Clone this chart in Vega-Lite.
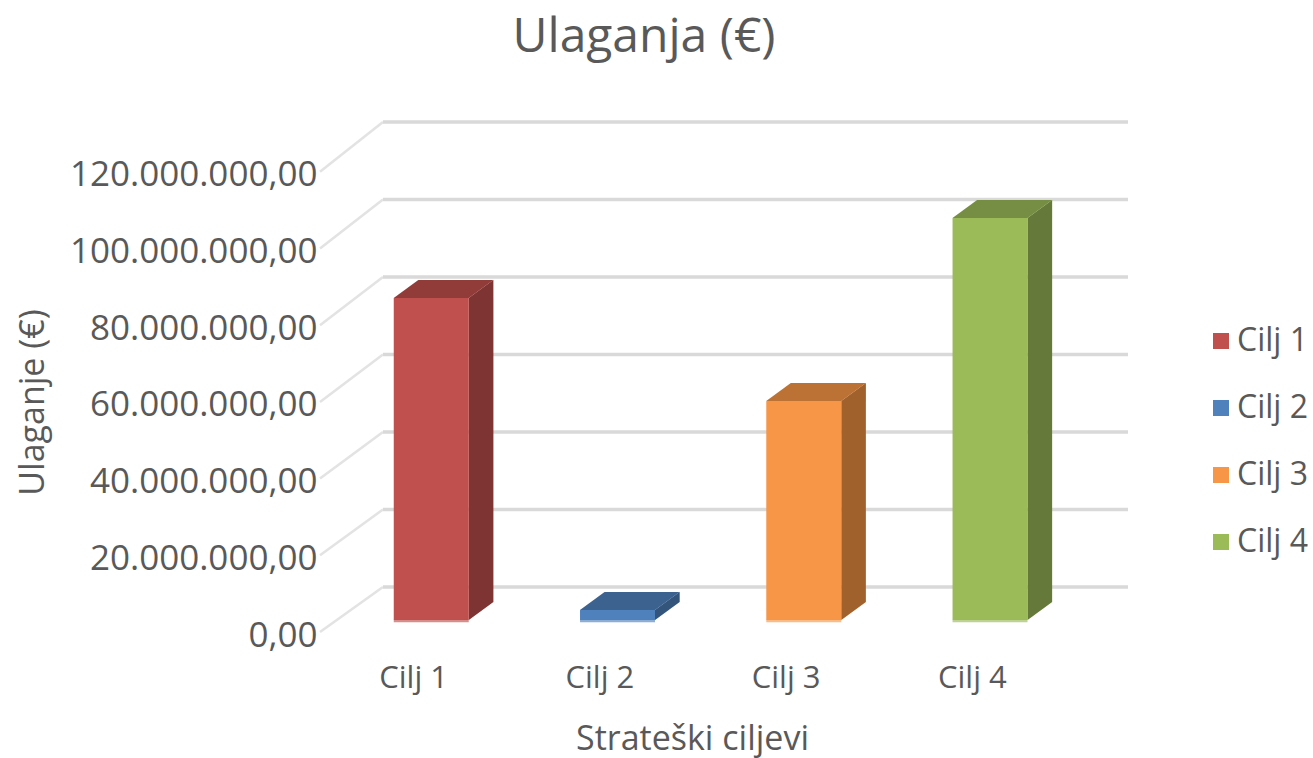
{
"$schema":"https://vega.github.io/schema/vega-lite/v6.json",
"width":808,"height":510,
"autosize":{"type":"none"},
"padding":{"left":320,"top":122,"right":185,"bottom":126},
"background":"white",
"config":{"view":{"stroke":null},"font":"Open Sans"},
"title":{"text":"Ulaganja (€)","fontSize":48,"font":"Open Sans","fontWeight":"normal","color":"#595959","anchor":"middle","dx":-80,"dy":-53,"offset":0},
"datasets":{
"ciljevi":[
{"cilj":"Cilj 1","rb":1,"ulaganje":83960000},
{"cilj":"Cilj 2","rb":2,"ulaganje":2600000},
{"cilj":"Cilj 3","rb":3,"ulaganje":57100000},
{"cilj":"Cilj 4","rb":4,"ulaganje":104800000}],
"mreza":[{"v":0},{"v":20000000},{"v":40000000},{"v":60000000},{"v":80000000},{"v":100000000},{"v":120000000}]
},
"layer":[
{"data":{"name":"mreza"},
"transform":[{"calculate":"[0,1]","as":"k"},{"flatten":["k"]},
{"calculate":"0.5+datum.k*0.338","as":"xx"},{"calculate":"datum.k==0?datum.v:datum.v*1.0104+11730000","as":"yy"}],
"mark":{"type":"line","stroke":"#e3e3e3","strokeWidth":2.5},
"encoding":{
"x":{"field":"xx","type":"quantitative","scale":{"domain":[0.5,4.838],"nice":false,"zero":false},
"axis":{"values":[1,2,3,4],"labelExpr":"'Cilj ' + datum.value","grid":false,"domain":false,"ticks":false,"labelFontSize":31,"labelColor":"#595959","labelPadding":31,"labelFont":"Open Sans","title":"Strateški ciljevi","titleFontSize":34,"titleFont":"Open Sans","titleFontWeight":"normal","titleColor":"#595959","titleX":372,"titleY":107,"titleBaseline":"middle"}},
"y":{"field":"yy","type":"quantitative","scale":{"domain":[0,132990000],"nice":false},
"axis":{"values":[0,20000000,40000000,60000000,80000000,100000000,120000000],"labelExpr":"replace(replace(replace(format(datum.value,',.2f'),regexp(',','g'),'#'),'.',','),regexp('#','g'),'.')","labelLimit":300,"labelOffset":3,"grid":false,"domain":false,"ticks":false,"labelFontSize":35,"labelColor":"#595959","labelPadding":3,"labelFont":"Open Sans","title":"Ulaganje (€)","titleFontSize":34,"titleFont":"Open Sans","titleFontWeight":"normal","titleColor":"#595959","titleX":-287,"titleY":280,"titleBaseline":"middle"}},
"detail":{"field":"v"}}},
{"data":{"name":"mreza"},
"transform":[{"calculate":"[0,1]","as":"k"},{"flatten":["k"]},
{"calculate":"0.838+datum.k*4","as":"xx"},{"calculate":"datum.v*1.0104+11730000","as":"yy"}],
"mark":{"type":"line","stroke":"#d9d9d9","strokeWidth":3.5},
"encoding":{
"x":{"field":"xx","type":"quantitative"},
"y":{"field":"yy","type":"quantitative"},
"detail":{"field":"v"}}},
{"data":{"name":"ciljevi"},
"transform":[{"calculate":"[0,1]","as":"k"},{"flatten":["k"]},
{"calculate":"datum.rb+0.2986+datum.k*0.132","as":"xx"},
{"calculate":"datum.ulaganje+3130000+datum.k*4690000","as":"yy"},
{"calculate":"3130000+datum.k*4690000","as":"yb"}],
"mark":{"type":"area","orient":"vertical"},
"encoding":{"x":{"field":"xx","type":"quantitative"},"y":{"field":"yy","type":"quantitative"},"y2":{"field":"yb"},
"color":{"field":"cilj","type":"nominal","scale":{"domain":["Cilj 1","Cilj 2","Cilj 3","Cilj 4"],"range":["#c0504d","#4f81bd","#f79646","#9bbb59"]},
"legend":{"title":null,"orient":"none","legendX":885,"legendY":201,"symbolType":"square","symbolSize":256,"symbolStrokeWidth":0,"labelFontSize":32,"labelFont":"Open Sans","labelColor":"#595959","rowPadding":31,"labelOffset":0,"clipHeight":36}}}},
{"data":{"name":"ciljevi"},
"transform":[{"calculate":"[0,1]","as":"k"},{"flatten":["k"]},
{"calculate":"datum.rb+0.2986+datum.k*0.132","as":"xx"},
{"calculate":"datum.ulaganje+3130000+datum.k*4690000","as":"yy"},
{"calculate":"3130000+datum.k*4690000","as":"yb"}],
"mark":{"type":"area","orient":"vertical","fill":"#000000","opacity":0.35},
"encoding":{"x":{"field":"xx","type":"quantitative"},"y":{"field":"yy","type":"quantitative"},"y2":{"field":"yb"},"detail":{"field":"cilj"}}},
{"data":{"name":"ciljevi"},
"transform":[{"calculate":"[0,1,2,3]","as":"k"},{"flatten":["k"]},
{"calculate":"datum.rb-0.104+(datum.k==0?0:datum.k==1?0.132:datum.k==2?0.4026:0.5346)","as":"xx"},
{"calculate":"datum.ulaganje+3130000+(datum.k==0?0:4690000)","as":"yy"},
{"calculate":"datum.ulaganje+3130000+(datum.k==3?4690000:0)","as":"yb"}],
"mark":{"type":"area","orient":"vertical"},
"encoding":{"x":{"field":"xx","type":"quantitative"},"y":{"field":"yy","type":"quantitative"},"y2":{"field":"yb"},"color":{"field":"cilj","type":"nominal","legend":null}}},
{"data":{"name":"ciljevi"},
"transform":[{"calculate":"[0,1,2,3]","as":"k"},{"flatten":["k"]},
{"calculate":"datum.rb-0.104+(datum.k==0?0:datum.k==1?0.132:datum.k==2?0.4026:0.5346)","as":"xx"},
{"calculate":"datum.ulaganje+3130000+(datum.k==0?0:4690000)","as":"yy"},
{"calculate":"datum.ulaganje+3130000+(datum.k==3?4690000:0)","as":"yb"}],
"mark":{"type":"area","orient":"vertical","fill":"#000000","opacity":0.24},
"encoding":{"x":{"field":"xx","type":"quantitative"},"y":{"field":"yy","type":"quantitative"},"y2":{"field":"yb"},"detail":{"field":"cilj"}}},
{"data":{"name":"ciljevi"},
"transform":[{"calculate":"datum.rb-0.104","as":"x1"},{"calculate":"datum.rb+0.2986","as":"x2"},
{"calculate":"datum.ulaganje+3130000","as":"yy"},{"calculate":"3130000","as":"yb"}],
"mark":{"type":"rect"},
"encoding":{"x":{"field":"x1","type":"quantitative"},"x2":{"field":"x2"},"y":{"field":"yy","type":"quantitative"},"y2":{"field":"yb"},"color":{"field":"cilj","type":"nominal","legend":null}}},
{"data":{"name":"ciljevi"},
"transform":[{"calculate":"datum.rb-0.104","as":"x1"},{"calculate":"datum.rb+0.2986","as":"x2"},{"calculate":"2900000","as":"yb"}],
"mark":{"type":"rule","strokeWidth":2.5,"opacity":0.65},
"encoding":{"x":{"field":"x1","type":"quantitative"},"x2":{"field":"x2"},"y":{"field":"yb","type":"quantitative"},"color":{"field":"cilj","type":"nominal","legend":null}}}
]
}
